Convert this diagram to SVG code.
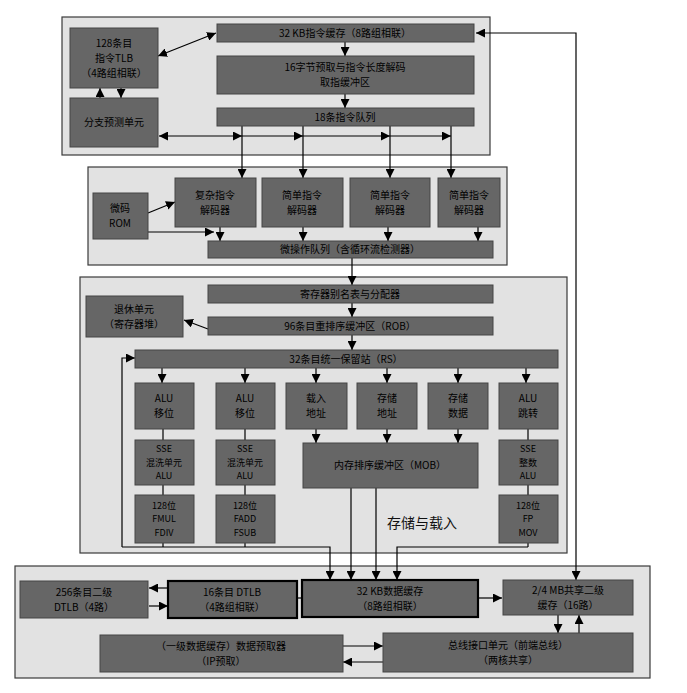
<svg xmlns="http://www.w3.org/2000/svg" width="687" height="693" viewBox="0 0 687 693">
<style>
.bg{fill:#ffffff}
.cont{fill:#e2e2e2;stroke:#3a3a3a;stroke-width:1.2}
.n{fill:#666666;stroke:#444;stroke-width:1}
.nb{fill:#666666;stroke:#000;stroke-width:2.2}
.t{font-family:"Noto Sans CJK SC","Liberation Sans",sans-serif;font-size:10px;fill:#000;text-anchor:middle}
.s{font-family:"Noto Sans CJK SC","Liberation Sans",sans-serif;font-size:9px;fill:#000;text-anchor:middle}
.lbl{font-family:"Noto Sans CJK SC","Liberation Sans",sans-serif;font-size:14px;fill:#111;text-anchor:middle}
.c{fill:none;stroke:#000;stroke-width:1.2}
.ca{fill:none;stroke:#000;stroke-width:1.2;marker-end:url(#ah)}
.cb{fill:none;stroke:#000;stroke-width:1.2;marker-start:url(#ah);marker-end:url(#ah)}
</style>
<defs>
<marker id="ah" viewBox="0 0 10 10" refX="10" refY="5" markerWidth="9" markerHeight="9" markerUnits="userSpaceOnUse" orient="auto-start-reverse">
<path d="M0,0 L10,5 L0,10 z" fill="#000"/>
</marker>
</defs>
<rect class="bg" x="0" y="0" width="687" height="693"/>
<g id="containers">
<rect class="cont" x="62" y="17" width="428" height="138"/>
<rect class="cont" x="88" y="167" width="419" height="98"/>
<rect class="cont" x="80" y="277" width="487" height="276"/>
<rect class="cont" x="15" y="566" width="635" height="112"/>
</g>
<g id="connectors">
<path class="cb" d="M158,56 L216,33"/>
<path class="ca" d="M345,42 L345,56"/>
<path class="ca" d="M345,94 L345,108"/>
<path class="ca" d="M121,88 L121,98"/>
<path class="ca" d="M100,98 L100,88"/>
<path class="cb" d="M159,136 L242,136"/>
<path class="ca" d="M242,136 L303,136"/>
<path class="ca" d="M303,136 L390,136"/>
<path class="ca" d="M390,136 L451,136"/>
<path class="ca" d="M242,126 L242,178"/>
<path class="ca" d="M303,126 L303,178"/>
<path class="ca" d="M390,126 L390,178"/>
<path class="ca" d="M451,126 L451,178"/>
<path class="ca" d="M148,213 L175,202"/>
<path class="ca" d="M148,232 L214,232"/>
<path class="ca" d="M220,227 L220,241"/>
<path class="ca" d="M303,227 L303,241"/>
<path class="ca" d="M388,227 L388,241"/>
<path class="ca" d="M478,227 L478,241"/>
<path class="ca" d="M352,258 L352,285"/>
<path class="ca" d="M352,303 L352,317"/>
<path class="ca" d="M208,329 L184,320"/>
<path class="ca" d="M352,335 L352,350"/>
<path class="ca" d="M162,368 L162,383"/>
<path class="ca" d="M245,368 L245,383"/>
<path class="ca" d="M316,368 L316,383"/>
<path class="ca" d="M387,368 L387,383"/>
<path class="ca" d="M458,368 L458,383"/>
<path class="ca" d="M526,368 L526,383"/>
<path class="ca" d="M316,429 L316,443"/>
<path class="ca" d="M387,429 L387,443"/>
<path class="ca" d="M458,429 L458,443"/>
<path class="c" d="M163,429 L163,547"/>
<path class="c" d="M245,429 L245,547"/>
<path class="c" d="M528,429 L528,547"/>
<path class="ca" d="M122,547 L122,358 L135,358"/>
<path class="ca" d="M122,547 L330,547 L330,580"/>
<path class="ca" d="M528,547 L397,547 L397,580"/>
<path class="ca" d="M351,488 L351,580"/>
<path class="ca" d="M376,488 L376,580"/>
<path class="ca" d="M168,588 L149,588"/>
<path class="ca" d="M149,606 L168,606"/>
<path class="c" d="M297,598 L302,598"/>
<path class="ca" d="M478,598 L502,598"/>
<path class="cb" d="M576,580 L576,33 L476,33"/>
<path class="ca" d="M558,615 L558,633"/>
<path class="ca" d="M579,633 L579,615"/>
<path class="ca" d="M343,646 L383,646"/>
<path class="ca" d="M383,662 L343,662"/>
</g>
<g id="itlb"><rect class="n" x="70" y="28" width="88" height="60"/><text class="t" x="114" y="46.5">128条目</text><text class="t" x="114" y="61.5">指令TLB</text><text class="t" x="114" y="76.5">（4路组相联）</text></g>
<g id="bpu"><rect class="n" x="70" y="98" width="88" height="49"/><text class="t" x="114" y="126">分支预测单元</text></g>
<g id="icache"><rect class="n" x="217" y="24" width="257" height="18"/><text class="t" x="345" y="36.5">32 KB指令缓存（8路组相联）</text></g>
<g id="predecode"><rect class="n" x="217" y="56" width="257" height="38"/><text class="t" x="345" y="71">16字节预取与指令长度解码</text><text class="t" x="345" y="86">取指缓冲区</text></g>
<g id="iq"><rect class="n" x="217" y="108" width="257" height="18"/><text class="t" x="345" y="120.5">18条指令队列</text></g>
<g id="urom"><rect class="n" x="93" y="193" width="55" height="46"/><text class="t" x="120" y="212">微码</text><text class="t" x="120" y="227">ROM</text></g>
<g id="dec1"><rect class="n" x="175" y="178" width="81" height="49"/><text class="t" x="215" y="198.5">复杂指令</text><text class="t" x="215" y="213.5">解码器</text></g>
<g id="dec2"><rect class="n" x="262" y="178" width="81" height="49"/><text class="t" x="302" y="198.5">简单指令</text><text class="t" x="302" y="213.5">解码器</text></g>
<g id="dec3"><rect class="n" x="350" y="178" width="80" height="49"/><text class="t" x="390" y="198.5">简单指令</text><text class="t" x="390" y="213.5">解码器</text></g>
<g id="dec4"><rect class="n" x="438" y="178" width="62" height="49"/><text class="t" x="469" y="198.5">简单指令</text><text class="t" x="469" y="213.5">解码器</text></g>
<g id="uopq"><rect class="n" x="208" y="241" width="285" height="17"/><text class="t" x="350" y="253">微操作队列（含循环流检测器）</text></g>
<g id="rat"><rect class="n" x="208" y="285" width="285" height="18"/><text class="t" x="350" y="297.5">寄存器别名表与分配器</text></g>
<g id="retire"><rect class="n" x="86" y="296" width="97" height="41"/><text class="t" x="134" y="312.5">退休单元</text><text class="t" x="134" y="327.5">（寄存器堆）</text></g>
<g id="rob"><rect class="n" x="208" y="317" width="285" height="18"/><text class="t" x="350" y="329.5">96条目重排序缓冲区（ROB）</text></g>
<g id="rs"><rect class="n" x="135" y="350" width="423" height="18"/><text class="t" x="346" y="362.5">32条目统一保留站（RS）</text></g>
<g id="alu0"><rect class="n" x="135" y="383" width="59" height="46"/><text class="t" x="164" y="402">ALU</text><text class="t" x="164" y="417">移位</text></g>
<g id="alu1"><rect class="n" x="216" y="383" width="59" height="46"/><text class="t" x="245" y="402">ALU</text><text class="t" x="245" y="417">移位</text></g>
<g id="ld"><rect class="n" x="286" y="383" width="61" height="46"/><text class="t" x="316" y="402">载入</text><text class="t" x="316" y="417">地址</text></g>
<g id="sta"><rect class="n" x="357" y="383" width="60" height="46"/><text class="t" x="387" y="402">存储</text><text class="t" x="387" y="417">地址</text></g>
<g id="std"><rect class="n" x="428" y="383" width="60" height="46"/><text class="t" x="458" y="402">存储</text><text class="t" x="458" y="417">数据</text></g>
<g id="alu5"><rect class="n" x="499" y="383" width="59" height="46"/><text class="t" x="528" y="402">ALU</text><text class="t" x="528" y="417">跳转</text></g>
<g id="sse0"><rect class="n" x="135" y="440" width="59" height="45"/><text class="s" x="164" y="452">SSE</text><text class="s" x="164" y="465.5">混洗单元</text><text class="s" x="164" y="479">ALU</text></g>
<g id="sse1"><rect class="n" x="216" y="440" width="59" height="45"/><text class="s" x="245" y="452">SSE</text><text class="s" x="245" y="465.5">混洗单元</text><text class="s" x="245" y="479">ALU</text></g>
<g id="mob"><rect class="n" x="303" y="443" width="175" height="45"/><text class="t" x="390" y="469">内存排序缓冲区（MOB）</text></g>
<g id="sse5"><rect class="n" x="499" y="440" width="59" height="45"/><text class="s" x="528" y="452">SSE</text><text class="s" x="528" y="465.5">整数</text><text class="s" x="528" y="479">ALU</text></g>
<g id="fp0"><rect class="n" x="135" y="495" width="59" height="48"/><text class="s" x="164" y="508.5">128位</text><text class="s" x="164" y="522">FMUL</text><text class="s" x="164" y="535.5">FDIV</text></g>
<g id="fp1"><rect class="n" x="216" y="495" width="59" height="48"/><text class="s" x="245" y="508.5">128位</text><text class="s" x="245" y="522">FADD</text><text class="s" x="245" y="535.5">FSUB</text></g>
<g id="fp5"><rect class="n" x="499" y="495" width="59" height="48"/><text class="s" x="528" y="508.5">128位</text><text class="s" x="528" y="522">FP</text><text class="s" x="528" y="535.5">MOV</text></g>
<text class="lbl" x="422" y="528">存储与载入</text>
<g id="l2tlb"><rect class="n" x="20" y="581" width="128" height="37"/><text class="t" x="84" y="595.5">256条目二级</text><text class="t" x="84" y="610.5">DTLB（4路）</text></g>
<g id="dtlb"><rect class="nb" x="168" y="581" width="129" height="37"/><text class="t" x="232" y="595.5">16条目 DTLB</text><text class="t" x="232" y="610.5">（4路组相联）</text></g>
<g id="dcache"><rect class="nb" x="302" y="580" width="176" height="37"/><text class="t" x="390" y="594.5">32 KB数据缓存</text><text class="t" x="390" y="609.5">（8路组相联）</text></g>
<g id="l2"><rect class="n" x="503" y="580" width="130" height="35"/><text class="t" x="568" y="593.5">2/4 MB共享二级</text><text class="t" x="568" y="608.5">缓存（16路）</text></g>
<g id="prefetch"><rect class="n" x="100" y="635" width="243" height="37"/><text class="t" x="221" y="649.5">（一级数据缓存）数据预取器</text><text class="t" x="221" y="664.5">（IP预取）</text></g>
<g id="biu"><rect class="n" x="383" y="633" width="250" height="39"/><text class="t" x="508" y="648.5">总线接口单元（前端总线）</text><text class="t" x="508" y="663.5">（两核共享）</text></g>
</svg>
